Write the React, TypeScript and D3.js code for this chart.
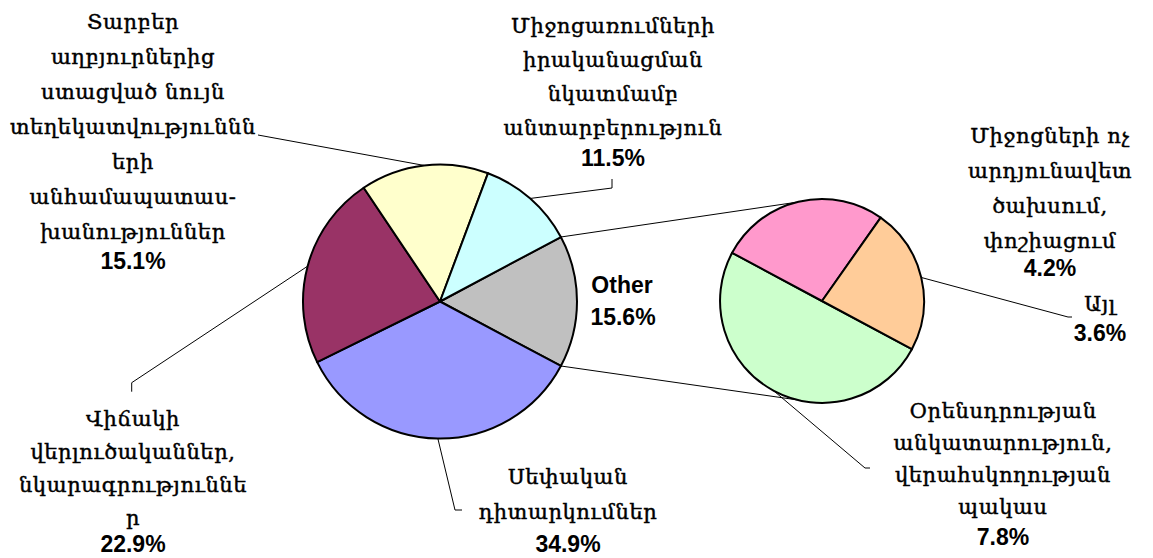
import React from "react";
import * as d3 from "d3";

const W = 1153;
const H = 558;

// Main pie data (clockwise from the "Other" slice)
const mainLabels = ["Other", "Սեփական", "Վիճակի", "Տարբեր", "Միջոցառումների"];
const mainValues = [15.6, 34.9, 22.9, 15.1, 11.5];
const mainColors = ["#C0C0C0", "#9999FF", "#993366", "#FFFFCC", "#CCFFFF"];

// Secondary pie data (breakdown of "Other")
const subValues = [7.8, 4.2, 3.6];
const subColors = ["#CCFFCC", "#FF99CC", "#FFCC99"];

// Label texts
const labelOther = ["Other", "15.6%"];
const labelBlue = ["Սեփական", "դիտարկումներ"];
const labelMaroon = ["Վիճակի", "վերլուծականներ,", "նկարագրություննե", "ր"];
const labelYellow = ["Տարբեր", "աղբյուրներից", "ստացված նույն", "տեղեկատվություննն", "երի", "անհամապատաս-", "խանություններ"];
const labelCyan = ["Միջոցառումների", "իրականացման", "նկատմամբ", "անտարբերություն"];
const labelGreen = ["Օրենսդրության", "անկատարություն,", "վերահսկողության", "պակաս"];
const labelPink = ["Միջոցների ոչ", "արդյունավետ", "ծախսում,", "փոշիացում"];
const labelPeach = ["Այլ"];

const deg = Math.PI / 180;
const mainC = { x: 440, y: 301.5, r: 137 };
const subC = { x: 822, y: 301, r: 102 };

const armFont = "'DejaVu Serif', serif";
const numFont = "'Liberation Sans', Arial, sans-serif";

function pt(c: { x: number; y: number; r: number }, a: number): [number, number] {
  return [c.x + c.r * Math.sin(a), c.y - c.r * Math.cos(a)];
}

type LabelProps = { x: number; y: number; lines: string[]; pct: string; lh?: number; pctGap?: number; size?: number };
function Label({ x, y, lines, pct, lh = 35, pctGap = 30, size = 21 }: LabelProps) {
  return (
    <g>
      {lines.map((t, i) => (
        <text key={i} x={x} y={y + i * lh} textAnchor="middle" fontFamily={armFont} fontSize={size}
          letterSpacing={0.6} fill="#000" stroke="#000" strokeWidth={0.45}>
          {t}
        </text>
      ))}
      <text x={x} y={y + (lines.length - 1) * lh + pctGap} textAnchor="middle" fontFamily={numFont} fontWeight="bold" fontSize={23} fill="#000">
        {pct}
      </text>
    </g>
  );
}

export default function App() {
  const mainTotal = d3.sum(mainValues);
  const mainStart = 90 * deg - (mainValues[0] / mainTotal) * Math.PI;
  const mainPie = d3.pie<number>().sort(null).value((d) => d).startAngle(mainStart).endAngle(mainStart + 2 * Math.PI);
  const mainArcs = mainPie(mainValues);
  const mainArc = d3.arc<d3.PieArcDatum<number>>().innerRadius(0).outerRadius(mainC.r);

  const subStart = 118.2 * deg;
  const subPie = d3.pie<number>().sort(null).value((d) => d).startAngle(subStart).endAngle(subStart + 2 * Math.PI);
  const subArcs = subPie(subValues);
  const subArc = d3.arc<d3.PieArcDatum<number>>().innerRadius(0).outerRadius(subC.r);

  const fmt = (v: number) => v.toFixed(1) + "%";
  const mid = (a: d3.PieArcDatum<number>) => (a.startAngle + a.endAngle) / 2;

  // connector lines between the "Other" slice and the secondary pie
  const other = mainArcs[0];
  const c1a = pt(mainC, other.startAngle);
  const c1b = pt(subC, -14.5 * deg);
  const c2a = pt(mainC, other.endAngle);
  const c2b = pt(subC, 194.3 * deg);

  const leaders: [number, number][][] = [
    [pt(mainC, mid(mainArcs[3])), [258, 135]],
    [pt(mainC, mid(mainArcs[4])), [612, 188], [612, 179]],
    [pt(mainC, mid(mainArcs[2])), [131.7, 382.7], [131.7, 391.7]],
    [pt(mainC, mid(mainArcs[1])), [455, 510], [462, 510]],
    [pt(subC, mid(subArcs[0])), [865, 468], [870, 468]],
    [pt(subC, mid(subArcs[2])), [1068, 317], [1072, 317]],
  ];
  const line = d3.line();

  return (
    <svg width={W} height={H} style={{ position: "absolute", left: 0, top: 0, background: "#fff" }}>
      <rect width={W} height={H} fill="#fff" />
      {/* connectors */}
      <line x1={c1a[0]} y1={c1a[1]} x2={c1b[0]} y2={c1b[1]} stroke="#000" strokeWidth={1} />
      <line x1={c2a[0]} y1={c2a[1]} x2={c2b[0]} y2={c2b[1]} stroke="#000" strokeWidth={1} />
      {leaders.map((p, i) => (
        <path key={i} d={line(p) || ""} fill="none" stroke="#000" strokeWidth={1} />
      ))}
      <g transform={`translate(${mainC.x},${mainC.y})`}>
        {mainArcs.map((a, i) => (
          <path key={i} d={mainArc(a) || ""} fill={mainColors[i]} stroke="#000" strokeWidth={2} strokeLinejoin="round" />
        ))}
      </g>
      <g transform={`translate(${subC.x},${subC.y})`}>
        {subArcs.map((a, i) => (
          <path key={i} d={subArc(a) || ""} fill={subColors[i]} stroke="#000" strokeWidth={2} strokeLinejoin="round" />
        ))}
      </g>

      <Label x={133} y={29} lines={labelYellow} pct={fmt(mainValues[3])} />
      <Label x={613} y={33} lines={labelCyan} pct={fmt(mainValues[4])} lh={34} pctGap={31} />
      <Label x={133} y={426} lines={labelMaroon} pct={fmt(mainValues[2])} lh={33} pctGap={27} />
      <Label x={568} y={484} lines={labelBlue} pct={fmt(mainValues[1])} pctGap={33} />
      <Label x={1003} y={418} lines={labelGreen} pct={fmt(subValues[0])} lh={32} pctGap={31} />
      <Label x={1050} y={143} lines={labelPink} pct={fmt(subValues[1])} pctGap={28} />
      <Label x={1100} y={311} lines={labelPeach} pct={fmt(subValues[2])} pctGap={30} />
      <text x={622} y={293} textAnchor="middle" fontFamily={numFont} fontWeight="bold" fontSize={23}>{labelOther[0]}</text>
      <text x={623} y={325} textAnchor="middle" fontFamily={numFont} fontWeight="bold" fontSize={23}>{fmt(mainValues[0])}</text>
    </svg>
  );
}
